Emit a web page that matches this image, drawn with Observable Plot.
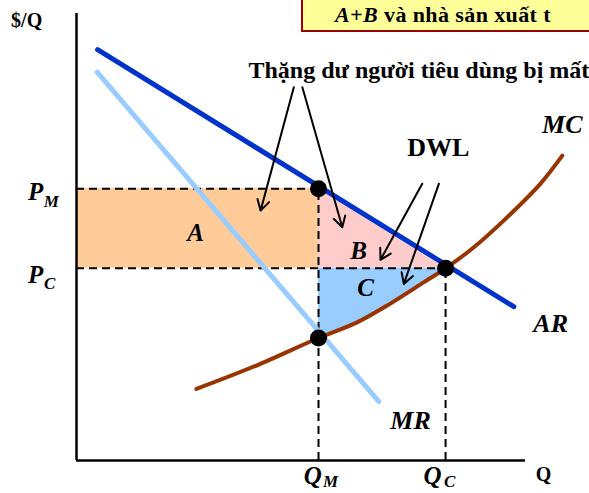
<!DOCTYPE html>
<html>
<head>
<meta charset="utf-8">
<script src="https://cdn.jsdelivr.net/npm/d3@7"></script>
<script src="https://cdn.jsdelivr.net/npm/@observablehq/plot@0.6"></script>
<style>
  html, body { margin: 0; padding: 0; background: #fff; overflow: hidden; }
  #wrap { position: relative; width: 589px; height: 493px; }
  #banner {
    position: absolute; left: 301px; top: -3px; width: 400px; height: 35px;
    background: #ffff99; border: 2px solid #990000; box-sizing: border-box;
  }
  #bannerText {
    position: absolute; left: 335px; top: 5px; white-space: nowrap;
    font-family: 'Liberation Serif', 'Tinos', 'DejaVu Serif', 'Noto Serif', 'Times New Roman', serif;
    font-weight: bold; font-size: 22px; line-height: 20px; letter-spacing: 0.4px;
  }
</style>
</head>
<body>
<div id="wrap">
  <div id="chart"></div>
  <div id="banner"></div>
  <div id="bannerText"><i>A+B</i> và nhà sản xuất t</div>
</div>
<script>
// Key quantities and prices (chart units: axis lengths 0..10)
const qLabels = ["Q", "Q"];
const qSubs = ["M", "C"];
const qValues = [5.39, 8.22];      // Q_M, Q_C
const pLabels = ["P", "P"];
const pSubs = ["M", "C"];
const pValues = [6.08, 4.30];      // P_M, P_C
const mcAtQM = 2.74;

// Demand (AR) and marginal revenue (MR) lines: endpoints
const arQ = [0.47, 9.74];
const arP = [9.19, 3.44];
const mrQ = [0.46, 6.73];
const mrP = [8.69, 1.32];

// Marginal cost curve points
const mcQ = [2.67, 4.02, 5.39, 6.25, 6.99, 7.74, 8.22, 8.85, 9.59, 10.33, 10.82];
const mcP = [1.60, 2.13, 2.74, 3.09, 3.51, 3.99, 4.30, 4.77, 5.44, 6.19, 6.82];

// Annotation arrows [q1, p1, q2, p2]
const arrowsCS = [[4.84, 8.35, 4.10, 5.59], [5.03, 8.35, 5.92, 5.22]];
const arrowsDWL = [[7.70, 6.19, 6.77, 4.49], [8.07, 6.19, 7.29, 3.95]];

const QM = qValues[0], QC = qValues[1], PM = pValues[0], PC = pValues[1];
const ar = arQ.map((q, i) => ({q, p: arP[i]}));
const mr = mrQ.map((q, i) => ({q, p: mrP[i]}));
const mc = mcQ.map((q, i) => ({q, p: mcP[i]}));
const mcC = mc.filter(d => d.q >= QM && d.q <= QC);
const arrows = [...arrowsCS, ...arrowsDWL].map(([q1, p1, q2, p2]) => ({q1, p1, q2, p2}));

const serif = "'Liberation Serif', 'Tinos', 'DejaVu Serif', 'Noto Serif', 'Times New Roman', serif";
const lbl = (x, y, text, size, italic = true, anchor = "middle") =>
  Plot.text([{x, y}], {x: "x", y: "y", text: () => text, fontSize: size, fontWeight: "bold",
    fontStyle: italic ? "italic" : "normal", fontFamily: serif, textAnchor: anchor, fill: "black"});

const chart = Plot.plot({
  width: 589, height: 493, margin: 0,
  x: {domain: [0, 10], range: [76, 525], axis: null},
  y: {domain: [0, 10], range: [460, 13], axis: null},
  style: {background: "white", fontFamily: serif},
  marks: [
    // Areas A, B, C
    Plot.rect([{}], {x1: 0, x2: QM, y1: PC, y2: PM, fill: "#ffcc99"}),
    Plot.areaY([{q: QM, top: PM}, {q: QC, top: PC}], {x: "q", y1: PC, y2: "top", fill: "#ffcccc"}),
    Plot.areaY(mcC, {x: "q", y1: "p", y2: PC, fill: "#99ccff", curve: "catmull-rom"}),
    // Dashed guides
    Plot.ruleY(pValues, {x1: 0, x2: qValues, stroke: "black", strokeWidth: 2, strokeDasharray: "8,5"}),
    Plot.ruleX(qValues, {y1: 0, y2: pValues, stroke: "black", strokeWidth: 2, strokeDasharray: "8,5"}),
    // Curves
    Plot.line(mr, {x: "q", y: "p", stroke: "#99ccff", strokeWidth: 5}),
    Plot.line(ar, {x: "q", y: "p", stroke: "#0033cc", strokeWidth: 5}),
    Plot.line(mc, {x: "q", y: "p", stroke: "#993300", strokeWidth: 4, curve: "catmull-rom", strokeLinecap: "round"}),
    // Axes
    Plot.ruleX([0], {y1: 0, y2: 10, stroke: "black", strokeWidth: 2.5}),
    Plot.ruleY([0], {x1: 0, x2: 10, stroke: "black", strokeWidth: 2.5}),
    // Points
    Plot.dot([{q: QM, p: PM}, {q: QC, p: PC}, {q: QM, p: mcAtQM}], {x: "q", y: "p", r: 8.5, fill: "black"}),
    // Arrows
    Plot.arrow(arrows, {x1: "q1", y1: "p1", x2: "q2", y2: "p2", stroke: "black", strokeWidth: 2, headLength: 9}),
    // Labels
    lbl(-1.11, 9.84, "$/Q", 20, false),
    lbl(10.40, -0.31, "Q", 20, false),
    lbl(-0.91, 6.00, pLabels[0], 25), lbl(-0.56, 5.80, pSubs[0], 17),
    lbl(-0.91, 4.15, pLabels[1], 25), lbl(-0.60, 3.96, pSubs[1], 17),
    lbl(5.26, -0.35, qLabels[0], 25), lbl(5.66, -0.47, qSubs[0], 17),
    lbl(7.93, -0.34, qLabels[1], 25), lbl(8.31, -0.47, qSubs[1], 17),
    lbl(2.65, 5.10, "A", 25), lbl(6.28, 4.68, "B", 25), lbl(6.44, 3.85, "C", 25),
    lbl(10.82, 7.52, "MC", 26), lbl(10.56, 3.06, "AR", 26), lbl(7.44, 0.89, "MR", 26),
    lbl(8.06, 7.00, "DWL", 26, false),
    lbl(3.83, 8.74, "Thặng dư người tiêu dùng bị mất", 24, false, "start")
  ]
});
document.getElementById("chart").appendChild(chart);
</script>
</body>
</html>
